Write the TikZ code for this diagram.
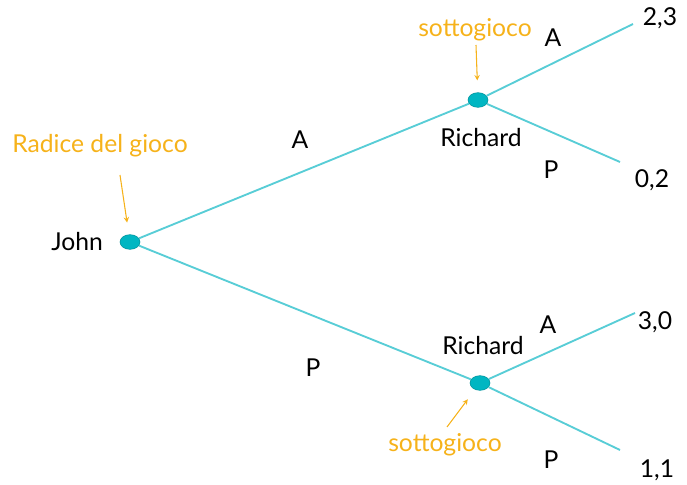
\documentclass[tikz,border=0pt]{standalone}
\usepackage{fontspec}
\setmainfont{Lato}
\usetikzlibrary{shapes.geometric}
\definecolor{ramo}{RGB}{88,205,214}
\definecolor{punto}{RGB}{0,182,194}
\definecolor{nota}{RGB}{246,178,26}

\begin{document}
\begin{tikzpicture}[x=0.75pt, y=-0.75pt, font=\fontsize{18.5}{20}\selectfont,
		main/.style = {draw=punto!80!black, fill=punto, ellipse, minimum width=15pt, minimum height=11pt, inner sep=0pt},
		branch/.style = {draw=ramo, line width=1.4pt},
		lbl/.style = {text=nota},
		hint/.style = {->, draw=nota, line width=0.8pt, shorten >=9pt, >=stealth}]
		\useasboundingbox (0,0) rectangle (687,485);

		\node[main] (J) at (130,242) {};
		\node[main] (R1) at (478,100) {};
		\node[main] (R2) at (480,383) {};
		\coordinate (e1) at (633,24);
		\coordinate (e2) at (620,162);
		\coordinate (e3) at (635,313);
		\coordinate (e4) at (620,450);

		\draw[branch] (J) -- (R1);
		\draw[branch] (J) -- (R2);
		\draw[branch] (R1) -- (e1);
		\draw[branch] (R1) -- (e2);
		\draw[branch] (R2) -- (e3);
		\draw[branch] (R2) -- (e4);

		\node (john) at (77,242) {John};
		\node (rich1) at (481,138) {Richard};
		\node (rich2) at (483,346) {Richard};

		\node (a0) at (300,140) {A};
		\node (p0) at (313,368) {P};
		\node (a1) at (553,38) {A};
		\node (p1) at (551,170) {P};
		\node (a2) at (548,325) {A};
		\node (p2) at (551,460) {P};

		\node (v1) at (660,18) {2,3};
		\node (v2) at (652,180) {0,2};
		\node (v3) at (655,322) {3,0};
		\node (v4) at (657,470) {1,1};

		\node[lbl] (radice) at (100,146) {Radice del gioco};
		\node[lbl] (sotto1) at (475,30) {sottogioco};
		\node[lbl] (sotto2) at (445,445) {sottogioco};
		\coordinate (t0) at (120,175);
		\coordinate (t1) at (476,45);
		\coordinate (t2) at (447,427);

		\draw[hint] (t0) -- (J);
		\draw[hint] (t1) -- (R1);
		\draw[hint] (t2) -- (R2);
	\end{tikzpicture}
\end{document}
